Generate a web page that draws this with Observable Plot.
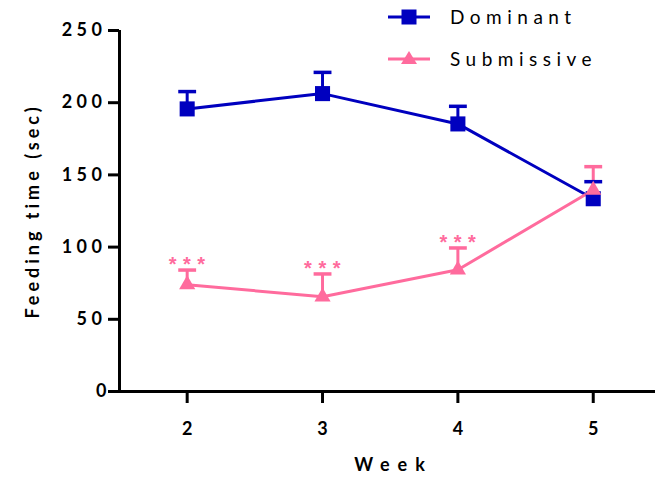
<!DOCTYPE html>
<html><head><meta charset="utf-8">
<script src="https://cdn.jsdelivr.net/npm/d3@7"></script>
<script src="https://cdn.jsdelivr.net/npm/@observablehq/plot@0.6"></script>
<style>
body{margin:0;background:#fff;}
#wrap{position:relative;width:655px;height:479px;font-family:Lato,"Liberation Sans",sans-serif;}
#wrap svg{overflow:visible;}
.legend{position:absolute;left:388px;top:0;}
.item{position:absolute;left:0;display:flex;align-items:center;white-space:nowrap;}
.item span{margin-left:20px;font-size:19px;letter-spacing:5.5px;color:#000;}
</style></head><body><div id="wrap"></div>
<script>
const weeks = [2, 3, 4, 5];
const seriesNames = ["Dominant", "Submissive"];
const seriesColors = ["#0000BF", "#FF6B9D"];
const seriesSymbols = ["square", "triangle"];
const dominantMean = [195.7, 206.3, 185.3, 133.5];
const dominantErr = [12.0, 14.7, 12.2, 11.8];
const submissiveMean = [74.0, 65.6, 84.3, 139.5];
const submissiveErr = [10.1, 15.8, 15.1, 16.2];
const significance = ["***", "***", "***", ""];
const yTicks = [0, 50, 100, 150, 200, 250];
const yLabel = "Feeding time (sec)";
const xLabel = "Week";

const rows = [];
weeks.forEach((w, i) => {
  rows.push({series: "Dominant", week: w, mean: dominantMean[i], err: dominantErr[i], sig: ""});
  rows.push({series: "Submissive", week: w, mean: submissiveMean[i], err: submissiveErr[i], sig: significance[i]});
});
const capHalf = 0.066;
const font = "Lato, 'Liberation Sans', sans-serif";

const chart = Plot.plot({
  width: 655, height: 479,
  marginTop: 30, marginLeft: 119, marginRight: 0, marginBottom: 88,
  style: {fontFamily: font, color: "#000", background: "#fff"},
  x: {domain: [1.5, 5.46]},
  y: {domain: [0, 250]},
  color: {domain: seriesNames, range: seriesColors},
  symbol: {domain: seriesNames, range: seriesSymbols},
  marks: [
    Plot.axisY({ticks: yTicks, tickSize: 11, tickPadding: 2, strokeWidth: 3, fontSize: 18, fontWeight: "bold", label: null}),
    Plot.axisX({ticks: weeks, tickSize: 12, tickPadding: 19, strokeWidth: 3, fontSize: 18, fontWeight: "bold", tickFormat: d => String(d), label: null}),
    Plot.ruleY([0], {stroke: "#000", strokeWidth: 3}),
    Plot.ruleX([1.5], {stroke: "#000", strokeWidth: 3}),
    Plot.ruleX(rows, {x: "week", y1: "mean", y2: d => d.mean + d.err, stroke: "series", strokeWidth: 3}),
    Plot.link(rows, {x1: d => d.week - capHalf, x2: d => d.week + capHalf, y1: d => d.mean + d.err, y2: d => d.mean + d.err, stroke: "series", strokeWidth: 3.5}),
    Plot.line(rows, {x: "week", y: "mean", z: "series", stroke: "series", strokeWidth: 3}),
    Plot.dot(rows.filter(d => d.series === "Dominant"), {x: "week", y: "mean", symbol: "series", fill: "series", r: 8.5, stroke: null}),
    Plot.dot(rows.filter(d => d.series === "Submissive"), {x: "week", y: "mean", symbol: "series", fill: "series", r: 6, stroke: null}),
    Plot.text(rows.filter(d => d.sig), {x: "week", y: d => d.mean + d.err, text: "sig", fill: "series", fontSize: 20, fontWeight: "bold", fontFamily: "'Liberation Sans', sans-serif", dy: -5, dx: 3, lineAnchor: "middle"}),
    Plot.text([yLabel], {frameAnchor: "left", textAnchor: "middle", dx: -86, rotate: -90, fontSize: 18, fontWeight: "bold"}),
    Plot.text([xLabel], {frameAnchor: "bottom", dx: 6, dy: 79, fontSize: 18, fontWeight: "bold"})
  ]
});
const wrap = document.getElementById("wrap");
wrap.appendChild(chart);

const spacing = {"***": "6.5px"};
spacing[yLabel] = "4px";
spacing[xLabel] = "8px";
d3.select(chart).selectAll("text").each(function () {
  const t = this.textContent;
  if (spacing[t]) this.style.letterSpacing = spacing[t];
  else if (yTicks.map(String).includes(t) && t.length > 1) this.style.letterSpacing = "4.5px";
});

// legend
const legend = document.createElement("div");
legend.className = "legend";
const tops = [5, 47];
seriesNames.forEach((name, i) => {
  const item = document.createElement("div");
  item.className = "item";
  item.style.top = tops[i] + "px";
  const color = seriesColors[i];
  const marker = seriesSymbols[i] === "square"
    ? `<rect x="13.5" y="3.5" width="15" height="15" fill="${color}"/>`
    : `<path d="M21,3 L29,16 L13,16 Z" fill="${color}"/>`;
  item.innerHTML = `<svg width="42" height="22"><line x1="0" x2="42" y1="11" y2="11" stroke="${color}" stroke-width="3"/>${marker}</svg><span>${name}</span>`;
  legend.appendChild(item);
});
wrap.appendChild(legend);
</script>
</body></html>
